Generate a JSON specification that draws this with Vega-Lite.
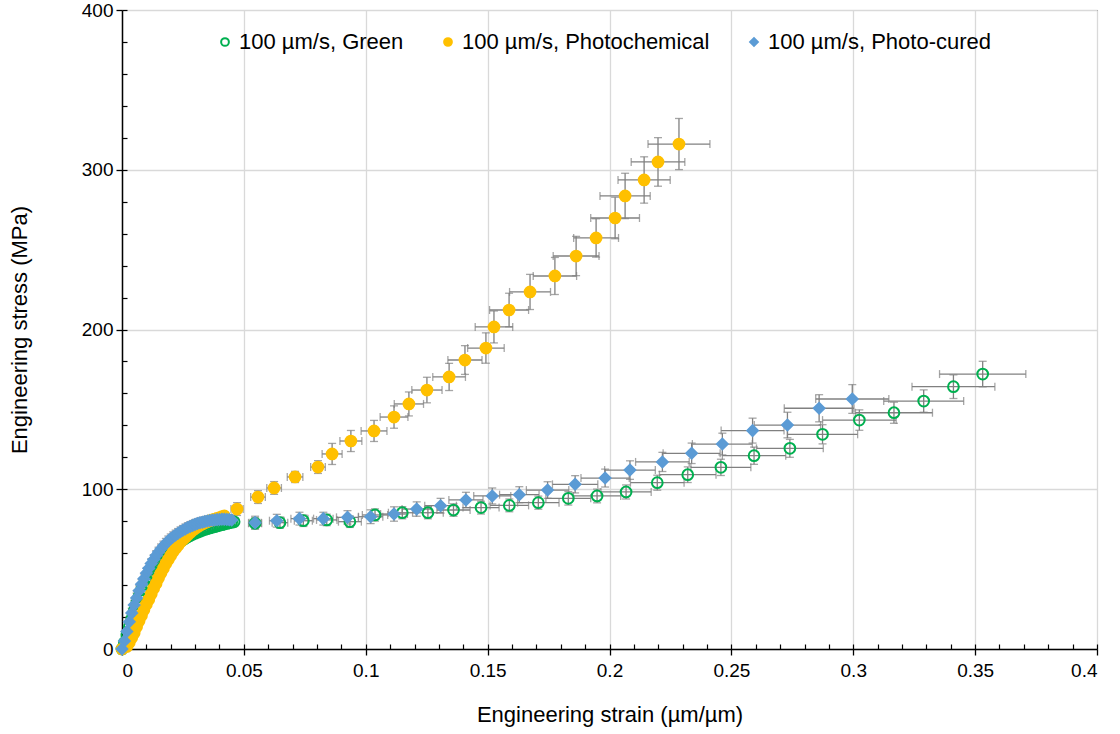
{
"$schema":"https://vega.github.io/schema/vega-lite/v6.json",
"width":975,"height":639,
"autosize":{"type":"none"},
"padding":{"left":122,"top":10,"right":23,"bottom":85},
"background":"white",
"config":{
"font":"Liberation Sans",
"view":{"stroke":"#000","strokeWidth":1},
"axis":{"labelFont":"Liberation Sans","titleFont":"Liberation Sans","labelColor":"#000","titleColor":"#000","titleFontWeight":"normal","domainColor":"#000","tickColor":"#000"},
"legend":{"orient":"none","legendX":92,"legendY":21,"direction":"horizontal","labelFont":"Liberation Sans","labelFontSize":22,"labelColor":"#000","labelLimit":0,"symbolSize":60,"symbolStrokeWidth":2,"columnPadding":33,"labelOffset":3,"padding":0}
},
"data":{"values":[
{"s":"100 µm/s, Green","x":0,"y":0,"ex":0.0008,"ey":2},
{"s":"100 µm/s, Green","x":0.001,"y":4,"ex":0.0008,"ey":2},
{"s":"100 µm/s, Green","x":0.002,"y":9,"ex":0.0008,"ey":2},
{"s":"100 µm/s, Green","x":0.003,"y":14,"ex":0.0008,"ey":2},
{"s":"100 µm/s, Green","x":0.004,"y":19,"ex":0.0008,"ey":2},
{"s":"100 µm/s, Green","x":0.005,"y":24,"ex":0.0008,"ey":2},
{"s":"100 µm/s, Green","x":0.006,"y":28.5,"ex":0.0008,"ey":2},
{"s":"100 µm/s, Green","x":0.007,"y":33,"ex":0.0008,"ey":2},
{"s":"100 µm/s, Green","x":0.008,"y":37,"ex":0.0008,"ey":2},
{"s":"100 µm/s, Green","x":0.009,"y":40.5,"ex":0.0008,"ey":2},
{"s":"100 µm/s, Green","x":0.010,"y":43.5,"ex":0.0008,"ey":2},
{"s":"100 µm/s, Green","x":0.011,"y":45.5,"ex":0.0008,"ey":2},
{"s":"100 µm/s, Green","x":0.012,"y":48,"ex":0.0008,"ey":2},
{"s":"100 µm/s, Green","x":0.013,"y":50,"ex":0.0008,"ey":2},
{"s":"100 µm/s, Green","x":0.014,"y":52,"ex":0.0008,"ey":2},
{"s":"100 µm/s, Green","x":0.015,"y":54,"ex":0.0008,"ey":2},
{"s":"100 µm/s, Green","x":0.016,"y":56,"ex":0.0008,"ey":2},
{"s":"100 µm/s, Green","x":0.017,"y":57.8,"ex":0.0008,"ey":2},
{"s":"100 µm/s, Green","x":0.018,"y":59.5,"ex":0.0008,"ey":2},
{"s":"100 µm/s, Green","x":0.019,"y":61,"ex":0.0008,"ey":2},
{"s":"100 µm/s, Green","x":0.020,"y":62.5,"ex":0.0008,"ey":2},
{"s":"100 µm/s, Green","x":0.021,"y":64,"ex":0.0008,"ey":2},
{"s":"100 µm/s, Green","x":0.022,"y":65.2,"ex":0.0008,"ey":2},
{"s":"100 µm/s, Green","x":0.023,"y":66.3,"ex":0.0008,"ey":2},
{"s":"100 µm/s, Green","x":0.024,"y":67.4,"ex":0.0008,"ey":2},
{"s":"100 µm/s, Green","x":0.025,"y":68.4,"ex":0.0008,"ey":2},
{"s":"100 µm/s, Green","x":0.026,"y":69.3,"ex":0.0008,"ey":2},
{"s":"100 µm/s, Green","x":0.027,"y":70.2,"ex":0.0008,"ey":2},
{"s":"100 µm/s, Green","x":0.028,"y":71,"ex":0.0008,"ey":2},
{"s":"100 µm/s, Green","x":0.029,"y":71.8,"ex":0.0008,"ey":2},
{"s":"100 µm/s, Green","x":0.030,"y":72.5,"ex":0.0008,"ey":2},
{"s":"100 µm/s, Green","x":0.031,"y":73.1,"ex":0.0008,"ey":2},
{"s":"100 µm/s, Green","x":0.032,"y":73.7,"ex":0.0008,"ey":2},
{"s":"100 µm/s, Green","x":0.033,"y":74.3,"ex":0.0008,"ey":2},
{"s":"100 µm/s, Green","x":0.034,"y":74.8,"ex":0.0008,"ey":2},
{"s":"100 µm/s, Green","x":0.035,"y":75.3,"ex":0.0008,"ey":2},
{"s":"100 µm/s, Green","x":0.036,"y":75.8,"ex":0.0008,"ey":2},
{"s":"100 µm/s, Green","x":0.037,"y":76.2,"ex":0.0008,"ey":2},
{"s":"100 µm/s, Green","x":0.038,"y":76.6,"ex":0.0008,"ey":2},
{"s":"100 µm/s, Green","x":0.039,"y":77,"ex":0.0008,"ey":2},
{"s":"100 µm/s, Green","x":0.040,"y":77.4,"ex":0.0008,"ey":2},
{"s":"100 µm/s, Green","x":0.041,"y":77.8,"ex":0.0008,"ey":2},
{"s":"100 µm/s, Green","x":0.042,"y":78.2,"ex":0.0008,"ey":2},
{"s":"100 µm/s, Green","x":0.043,"y":78.6,"ex":0.0008,"ey":2},
{"s":"100 µm/s, Green","x":0.044,"y":79,"ex":0.0008,"ey":2},
{"s":"100 µm/s, Green","x":0.045,"y":79.3,"ex":0.0008,"ey":2},
{"s":"100 µm/s, Green","x":0.046,"y":79.6,"ex":0.0008,"ey":2},
{"s":"100 µm/s, Green","x":0.0546,"y":78.7,"ex":0.0027,"ey":3.5},
{"s":"100 µm/s, Green","x":0.0648,"y":79.1,"ex":0.0032,"ey":3.5},
{"s":"100 µm/s, Green","x":0.0744,"y":80.3,"ex":0.0037,"ey":3.6},
{"s":"100 µm/s, Green","x":0.084,"y":80.8,"ex":0.0042,"ey":3.6},
{"s":"100 µm/s, Green","x":0.0935,"y":79.7,"ex":0.0047,"ey":3.6},
{"s":"100 µm/s, Green","x":0.1038,"y":83.9,"ex":0.0052,"ey":3.8},
{"s":"100 µm/s, Green","x":0.115,"y":85.3,"ex":0.0057,"ey":3.8},
{"s":"100 µm/s, Green","x":0.1255,"y":85.3,"ex":0.0063,"ey":3.8},
{"s":"100 µm/s, Green","x":0.136,"y":87.0,"ex":0.0068,"ey":3.9},
{"s":"100 µm/s, Green","x":0.1473,"y":88.5,"ex":0.0074,"ey":4},
{"s":"100 µm/s, Green","x":0.1589,"y":89.9,"ex":0.0079,"ey":4},
{"s":"100 µm/s, Green","x":0.1708,"y":91.6,"ex":0.0085,"ey":4.1},
{"s":"100 µm/s, Green","x":0.1831,"y":94.3,"ex":0.0092,"ey":4.2},
{"s":"100 µm/s, Green","x":0.1949,"y":95.8,"ex":0.0097,"ey":4.3},
{"s":"100 µm/s, Green","x":0.2068,"y":98.3,"ex":0.0103,"ey":4.4},
{"s":"100 µm/s, Green","x":0.2196,"y":104.1,"ex":0.011,"ey":4.7},
{"s":"100 µm/s, Green","x":0.2321,"y":109.1,"ex":0.0116,"ey":4.9},
{"s":"100 µm/s, Green","x":0.2457,"y":113.7,"ex":0.0123,"ey":5.1},
{"s":"100 µm/s, Green","x":0.2593,"y":121.0,"ex":0.013,"ey":5.4},
{"s":"100 µm/s, Green","x":0.274,"y":125.6,"ex":0.0137,"ey":5.6},
{"s":"100 µm/s, Green","x":0.2874,"y":134.4,"ex":0.0144,"ey":6},
{"s":"100 µm/s, Green","x":0.3025,"y":143.3,"ex":0.0151,"ey":6.4},
{"s":"100 µm/s, Green","x":0.3167,"y":147.9,"ex":0.0158,"ey":6.6},
{"s":"100 µm/s, Green","x":0.3289,"y":155.2,"ex":0.0164,"ey":7},
{"s":"100 µm/s, Green","x":0.3411,"y":164.2,"ex":0.017,"ey":7.4},
{"s":"100 µm/s, Green","x":0.3531,"y":172.1,"ex":0.0177,"ey":8},
{"s":"100 µm/s, Photochemical","x":0,"y":0,"ex":0.0008,"ey":2.5},
{"s":"100 µm/s, Photochemical","x":0.002,"y":1.5,"ex":0.0008,"ey":2.5},
{"s":"100 µm/s, Photochemical","x":0.003,"y":4,"ex":0.0008,"ey":2.5},
{"s":"100 µm/s, Photochemical","x":0.004,"y":7,"ex":0.0008,"ey":2.5},
{"s":"100 µm/s, Photochemical","x":0.005,"y":10,"ex":0.0008,"ey":2.5},
{"s":"100 µm/s, Photochemical","x":0.006,"y":14,"ex":0.0008,"ey":2.5},
{"s":"100 µm/s, Photochemical","x":0.007,"y":17.5,"ex":0.0008,"ey":2.5},
{"s":"100 µm/s, Photochemical","x":0.008,"y":21,"ex":0.0008,"ey":2.5},
{"s":"100 µm/s, Photochemical","x":0.009,"y":24.5,"ex":0.0008,"ey":2.5},
{"s":"100 µm/s, Photochemical","x":0.010,"y":28,"ex":0.0008,"ey":2.5},
{"s":"100 µm/s, Photochemical","x":0.011,"y":31,"ex":0.0008,"ey":2.5},
{"s":"100 µm/s, Photochemical","x":0.012,"y":34.5,"ex":0.0008,"ey":2.5},
{"s":"100 µm/s, Photochemical","x":0.013,"y":38,"ex":0.0008,"ey":2.5},
{"s":"100 µm/s, Photochemical","x":0.014,"y":41,"ex":0.0008,"ey":2.5},
{"s":"100 µm/s, Photochemical","x":0.015,"y":44.5,"ex":0.0008,"ey":2.5},
{"s":"100 µm/s, Photochemical","x":0.016,"y":47.5,"ex":0.0008,"ey":2.5},
{"s":"100 µm/s, Photochemical","x":0.017,"y":50.5,"ex":0.0008,"ey":2.5},
{"s":"100 µm/s, Photochemical","x":0.018,"y":53.5,"ex":0.0008,"ey":2.5},
{"s":"100 µm/s, Photochemical","x":0.019,"y":56,"ex":0.0008,"ey":2.5},
{"s":"100 µm/s, Photochemical","x":0.020,"y":58.5,"ex":0.0008,"ey":2.5},
{"s":"100 µm/s, Photochemical","x":0.021,"y":61,"ex":0.0008,"ey":2.5},
{"s":"100 µm/s, Photochemical","x":0.022,"y":63,"ex":0.0008,"ey":2.5},
{"s":"100 µm/s, Photochemical","x":0.023,"y":65,"ex":0.0008,"ey":2.5},
{"s":"100 µm/s, Photochemical","x":0.024,"y":67,"ex":0.0008,"ey":2.5},
{"s":"100 µm/s, Photochemical","x":0.025,"y":68.5,"ex":0.0008,"ey":2.5},
{"s":"100 µm/s, Photochemical","x":0.026,"y":70,"ex":0.0008,"ey":2.5},
{"s":"100 µm/s, Photochemical","x":0.027,"y":71.5,"ex":0.0008,"ey":2.5},
{"s":"100 µm/s, Photochemical","x":0.028,"y":73,"ex":0.0008,"ey":2.5},
{"s":"100 µm/s, Photochemical","x":0.029,"y":74.3,"ex":0.0008,"ey":2.5},
{"s":"100 µm/s, Photochemical","x":0.030,"y":75.5,"ex":0.0008,"ey":2.5},
{"s":"100 µm/s, Photochemical","x":0.031,"y":76.5,"ex":0.0008,"ey":2.5},
{"s":"100 µm/s, Photochemical","x":0.032,"y":77.5,"ex":0.0008,"ey":2.5},
{"s":"100 µm/s, Photochemical","x":0.033,"y":78.3,"ex":0.0008,"ey":2.5},
{"s":"100 µm/s, Photochemical","x":0.034,"y":79,"ex":0.0008,"ey":2.5},
{"s":"100 µm/s, Photochemical","x":0.035,"y":79.7,"ex":0.0008,"ey":2.5},
{"s":"100 µm/s, Photochemical","x":0.036,"y":80.3,"ex":0.0008,"ey":2.5},
{"s":"100 µm/s, Photochemical","x":0.037,"y":80.8,"ex":0.0008,"ey":2.5},
{"s":"100 µm/s, Photochemical","x":0.038,"y":81.3,"ex":0.0008,"ey":2.5},
{"s":"100 µm/s, Photochemical","x":0.039,"y":81.8,"ex":0.0008,"ey":2.5},
{"s":"100 µm/s, Photochemical","x":0.040,"y":82.3,"ex":0.0008,"ey":2.5},
{"s":"100 µm/s, Photochemical","x":0.041,"y":82.8,"ex":0.0008,"ey":2.5},
{"s":"100 µm/s, Photochemical","x":0.042,"y":83.3,"ex":0.0008,"ey":2.5},
{"s":"100 µm/s, Photochemical","x":0.0472,"y":87.6,"ex":0.0025,"ey":4},
{"s":"100 µm/s, Photochemical","x":0.0558,"y":95.1,"ex":0.003,"ey":4},
{"s":"100 µm/s, Photochemical","x":0.0624,"y":100.8,"ex":0.003,"ey":4},
{"s":"100 µm/s, Photochemical","x":0.0710,"y":107.7,"ex":0.0032,"ey":3.5},
{"s":"100 µm/s, Photochemical","x":0.0804,"y":113.9,"ex":0.003,"ey":4},
{"s":"100 µm/s, Photochemical","x":0.0862,"y":122.1,"ex":0.0041,"ey":6.6},
{"s":"100 µm/s, Photochemical","x":0.0939,"y":130.2,"ex":0.0045,"ey":6.6},
{"s":"100 µm/s, Photochemical","x":0.1034,"y":136.5,"ex":0.0053,"ey":6.6},
{"s":"100 µm/s, Photochemical","x":0.1116,"y":145.2,"ex":0.0057,"ey":7},
{"s":"100 µm/s, Photochemical","x":0.1177,"y":153.4,"ex":0.006,"ey":7.5},
{"s":"100 µm/s, Photochemical","x":0.1251,"y":162.1,"ex":0.0062,"ey":8},
{"s":"100 µm/s, Photochemical","x":0.1342,"y":170.3,"ex":0.0067,"ey":8.5},
{"s":"100 µm/s, Photochemical","x":0.1407,"y":180.9,"ex":0.007,"ey":9},
{"s":"100 µm/s, Photochemical","x":0.1493,"y":188.4,"ex":0.0075,"ey":9.5},
{"s":"100 µm/s, Photochemical","x":0.1526,"y":201.6,"ex":0.0077,"ey":10},
{"s":"100 µm/s, Photochemical","x":0.1588,"y":212.2,"ex":0.008,"ey":10.5},
{"s":"100 µm/s, Photochemical","x":0.1674,"y":223.5,"ex":0.0084,"ey":11},
{"s":"100 µm/s, Photochemical","x":0.1776,"y":233.5,"ex":0.0089,"ey":11.6},
{"s":"100 µm/s, Photochemical","x":0.1863,"y":246.0,"ex":0.0094,"ey":12.3},
{"s":"100 µm/s, Photochemical","x":0.1945,"y":257.3,"ex":0.0092,"ey":12},
{"s":"100 µm/s, Photochemical","x":0.2023,"y":269.8,"ex":0.0100,"ey":13},
{"s":"100 µm/s, Photochemical","x":0.2064,"y":283.6,"ex":0.0103,"ey":14.2},
{"s":"100 µm/s, Photochemical","x":0.2142,"y":293.6,"ex":0.0107,"ey":14.5},
{"s":"100 µm/s, Photochemical","x":0.2199,"y":304.9,"ex":0.011,"ey":15.2},
{"s":"100 µm/s, Photochemical","x":0.2285,"y":316.1,"ex":0.0127,"ey":16},
{"s":"100 µm/s, Photo-cured","x":0,"y":0,"ex":0.0008,"ey":3},
{"s":"100 µm/s, Photo-cured","x":0.001,"y":5,"ex":0.0008,"ey":3},
{"s":"100 µm/s, Photo-cured","x":0.002,"y":11,"ex":0.0008,"ey":3},
{"s":"100 µm/s, Photo-cured","x":0.003,"y":17,"ex":0.0008,"ey":3},
{"s":"100 µm/s, Photo-cured","x":0.004,"y":22.5,"ex":0.0008,"ey":3},
{"s":"100 µm/s, Photo-cured","x":0.005,"y":27.5,"ex":0.0008,"ey":3},
{"s":"100 µm/s, Photo-cured","x":0.006,"y":32,"ex":0.0008,"ey":3},
{"s":"100 µm/s, Photo-cured","x":0.007,"y":36.5,"ex":0.0008,"ey":3},
{"s":"100 µm/s, Photo-cured","x":0.008,"y":40.5,"ex":0.0008,"ey":3},
{"s":"100 µm/s, Photo-cured","x":0.009,"y":44,"ex":0.0008,"ey":3},
{"s":"100 µm/s, Photo-cured","x":0.010,"y":47.5,"ex":0.0008,"ey":3},
{"s":"100 µm/s, Photo-cured","x":0.011,"y":50.5,"ex":0.0008,"ey":3},
{"s":"100 µm/s, Photo-cured","x":0.012,"y":53.5,"ex":0.0008,"ey":3},
{"s":"100 µm/s, Photo-cured","x":0.013,"y":56,"ex":0.0008,"ey":3},
{"s":"100 µm/s, Photo-cured","x":0.014,"y":58.5,"ex":0.0008,"ey":3},
{"s":"100 µm/s, Photo-cured","x":0.015,"y":60.7,"ex":0.0008,"ey":3},
{"s":"100 µm/s, Photo-cured","x":0.016,"y":62.7,"ex":0.0008,"ey":3},
{"s":"100 µm/s, Photo-cured","x":0.017,"y":64.5,"ex":0.0008,"ey":3},
{"s":"100 µm/s, Photo-cured","x":0.018,"y":66.2,"ex":0.0008,"ey":3},
{"s":"100 µm/s, Photo-cured","x":0.019,"y":67.7,"ex":0.0008,"ey":3},
{"s":"100 µm/s, Photo-cured","x":0.020,"y":69,"ex":0.0008,"ey":3},
{"s":"100 µm/s, Photo-cured","x":0.021,"y":70.3,"ex":0.0008,"ey":3},
{"s":"100 µm/s, Photo-cured","x":0.022,"y":71.4,"ex":0.0008,"ey":3},
{"s":"100 µm/s, Photo-cured","x":0.023,"y":72.4,"ex":0.0008,"ey":3},
{"s":"100 µm/s, Photo-cured","x":0.024,"y":73.4,"ex":0.0008,"ey":3},
{"s":"100 µm/s, Photo-cured","x":0.025,"y":74.3,"ex":0.0008,"ey":3},
{"s":"100 µm/s, Photo-cured","x":0.026,"y":75.2,"ex":0.0008,"ey":3},
{"s":"100 µm/s, Photo-cured","x":0.027,"y":76,"ex":0.0008,"ey":3},
{"s":"100 µm/s, Photo-cured","x":0.028,"y":76.7,"ex":0.0008,"ey":3},
{"s":"100 µm/s, Photo-cured","x":0.029,"y":77.4,"ex":0.0008,"ey":3},
{"s":"100 µm/s, Photo-cured","x":0.030,"y":78,"ex":0.0008,"ey":3},
{"s":"100 µm/s, Photo-cured","x":0.031,"y":78.5,"ex":0.0008,"ey":3},
{"s":"100 µm/s, Photo-cured","x":0.032,"y":79,"ex":0.0008,"ey":3},
{"s":"100 µm/s, Photo-cured","x":0.033,"y":79.4,"ex":0.0008,"ey":3},
{"s":"100 µm/s, Photo-cured","x":0.034,"y":79.8,"ex":0.0008,"ey":3},
{"s":"100 µm/s, Photo-cured","x":0.035,"y":80.1,"ex":0.0008,"ey":3},
{"s":"100 µm/s, Photo-cured","x":0.036,"y":80.4,"ex":0.0008,"ey":3},
{"s":"100 µm/s, Photo-cured","x":0.037,"y":80.6,"ex":0.0008,"ey":3},
{"s":"100 µm/s, Photo-cured","x":0.038,"y":80.8,"ex":0.0008,"ey":3},
{"s":"100 µm/s, Photo-cured","x":0.039,"y":81,"ex":0.0008,"ey":3},
{"s":"100 µm/s, Photo-cured","x":0.040,"y":81.1,"ex":0.0008,"ey":3},
{"s":"100 µm/s, Photo-cured","x":0.041,"y":81.2,"ex":0.0008,"ey":3},
{"s":"100 µm/s, Photo-cured","x":0.042,"y":81.2,"ex":0.0008,"ey":3},
{"s":"100 µm/s, Photo-cured","x":0.043,"y":81.1,"ex":0.0008,"ey":3},
{"s":"100 µm/s, Photo-cured","x":0.044,"y":81,"ex":0.0008,"ey":3},
{"s":"100 µm/s, Photo-cured","x":0.045,"y":80.8,"ex":0.0008,"ey":3},
{"s":"100 µm/s, Photo-cured","x":0.0546,"y":79.1,"ex":0.0025,"ey":4},
{"s":"100 µm/s, Photo-cured","x":0.0635,"y":80.3,"ex":0.003,"ey":4},
{"s":"100 µm/s, Photo-cured","x":0.0728,"y":81.6,"ex":0.0035,"ey":4},
{"s":"100 µm/s, Photo-cured","x":0.0826,"y":81.6,"ex":0.004,"ey":4},
{"s":"100 µm/s, Photo-cured","x":0.0925,"y":82.4,"ex":0.0045,"ey":4.2},
{"s":"100 µm/s, Photo-cured","x":0.102,"y":82.8,"ex":0.005,"ey":4.3},
{"s":"100 µm/s, Photo-cured","x":0.1116,"y":84.5,"ex":0.0055,"ey":4.5},
{"s":"100 µm/s, Photo-cured","x":0.1209,"y":87.6,"ex":0.006,"ey":4.5},
{"s":"100 µm/s, Photo-cured","x":0.1307,"y":89.7,"ex":0.0065,"ey":4.6},
{"s":"100 µm/s, Photo-cured","x":0.1411,"y":93.3,"ex":0.007,"ey":4.8},
{"s":"100 µm/s, Photo-cured","x":0.1519,"y":95.8,"ex":0.0076,"ey":5},
{"s":"100 µm/s, Photo-cured","x":0.163,"y":96.6,"ex":0.0081,"ey":5},
{"s":"100 µm/s, Photo-cured","x":0.1746,"y":99.5,"ex":0.0087,"ey":5.2},
{"s":"100 µm/s, Photo-cured","x":0.1859,"y":103.1,"ex":0.0093,"ey":5.4},
{"s":"100 µm/s, Photo-cured","x":0.1982,"y":107.0,"ex":0.0099,"ey":5.6},
{"s":"100 µm/s, Photo-cured","x":0.2084,"y":112.0,"ex":0.0104,"ey":5.8},
{"s":"100 µm/s, Photo-cured","x":0.2217,"y":117.1,"ex":0.011,"ey":6},
{"s":"100 µm/s, Photo-cured","x":0.2337,"y":122.5,"ex":0.0117,"ey":6.4},
{"s":"100 µm/s, Photo-cured","x":0.2463,"y":128.3,"ex":0.0123,"ey":6.8},
{"s":"100 µm/s, Photo-cured","x":0.2587,"y":136.7,"ex":0.0129,"ey":7.8},
{"s":"100 µm/s, Photo-cured","x":0.273,"y":140.2,"ex":0.0136,"ey":8},
{"s":"100 µm/s, Photo-cured","x":0.286,"y":150.7,"ex":0.0143,"ey":8.5},
{"s":"100 µm/s, Photo-cured","x":0.2996,"y":156.5,"ex":0.015,"ey":9}
]},
"layer":[
{"mark":{"type":"errorbar","ticks":{"size":8},"color":"#808080","thickness":1.3},
 "encoding":{
  "x":{"field":"x","type":"quantitative","scale":{"domain":[0,0.4],"nice":false},"axis":null},
  "xError":{"field":"ex"},
  "y":{"field":"y","type":"quantitative","scale":{"domain":[0,400],"nice":false},"axis":null}}},
{"mark":{"type":"errorbar","ticks":{"size":8},"color":"#808080","thickness":1.3},
 "encoding":{
  "x":{"field":"x","type":"quantitative","scale":{"domain":[0,0.4],"nice":false},
   "axis":{"orient":"bottom","values":[0,0.01,0.02,0.03,0.04,0.05,0.06,0.07,0.08,0.09,0.1,0.11,0.12,0.13,0.14,0.15,0.16,0.17,0.18,0.19,0.2,0.21,0.22,0.23,0.24,0.25,0.26,0.27,0.28,0.29,0.3,0.31,0.32,0.33,0.34,0.35,0.36,0.37,0.38,0.39,0.4],"tickSize":-5,"tickWidth":1.2,"labels":false,"domain":false,"grid":false,"title":null}},
  "y":{"field":"y","type":"quantitative","scale":{"domain":[0,400],"nice":false},
   "axis":{"orient":"left","values":[0,20,40,60,80,100,120,140,160,180,200,220,240,260,280,300,320,340,360,380,400],"tickSize":-5,"tickWidth":1.2,"labels":false,"domain":false,"grid":false,"title":null}},
  "yError":{"field":"ey"}}},
{"mark":{"type":"point","filled":true,"size":115,"strokeWidth":2,"opacity":1},
 "encoding":{
  "x":{"field":"x","type":"quantitative","scale":{"domain":[0,0.4],"nice":false},
   "axis":{"orient":"bottom","values":[0,0.05,0.1,0.15,0.2,0.25,0.3,0.35,0.4],"format":"~g","tickSize":6,"tickWidth":1.3,"labelFontSize":19,"labelPadding":6,"grid":true,"gridColor":"#d9d9d9","gridWidth":1.3,"domainWidth":1.5,"title":"Engineering strain (µm/µm)","titleFontSize":22,"titlePadding":24}},
  "y":{"field":"y","type":"quantitative","scale":{"domain":[0,400],"nice":false},
   "axis":{"orient":"left","values":[0,100,200,300,400],"tickSize":6,"tickWidth":1.3,"labelFontSize":19,"labelPadding":3,"grid":true,"gridColor":"#d9d9d9","gridWidth":1.3,"domainWidth":1.5,"title":"Engineering stress (MPa)","titleFontSize":22,"titlePadding":50}},
  "shape":{"field":"s","type":"nominal","title":null,"scale":{"domain":["100 µm/s, Green","100 µm/s, Photochemical","100 µm/s, Photo-cured"],"range":["circle","circle","diamond"]}},
  "stroke":{"field":"s","type":"nominal","title":null,"scale":{"domain":["100 µm/s, Green","100 µm/s, Photochemical","100 µm/s, Photo-cured"],"range":["#00B050","#FFC000","#5B9BD5"]}},
  "fill":{"field":"s","type":"nominal","title":null,"scale":{"domain":["100 µm/s, Green","100 µm/s, Photochemical","100 µm/s, Photo-cured"],"range":["transparent","#FFC000","#5B9BD5"]}}}}
],
"resolve":{"axis":{"x":"independent","y":"independent"}}
}
